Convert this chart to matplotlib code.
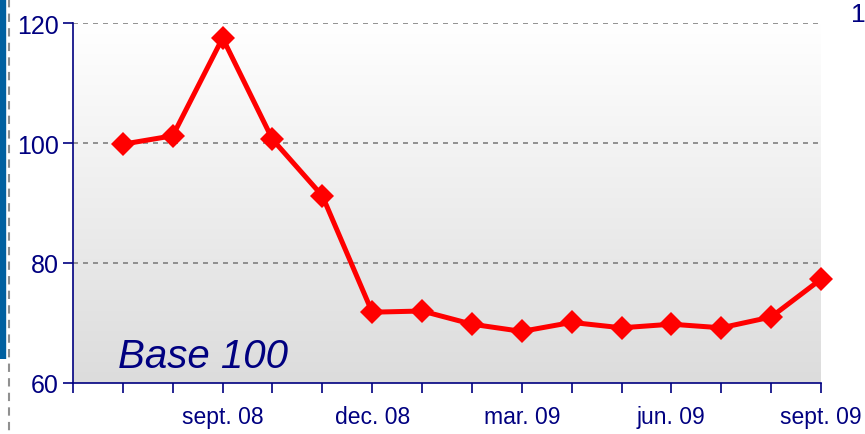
import matplotlib
matplotlib.use("Agg")
import matplotlib.pyplot as plt
from matplotlib.colors import LinearSegmentedColormap
from matplotlib.lines import Line2D
import numpy as np

plt.rcParams["font.family"] = ["Liberation Sans", "DejaVu Sans"]

# Monthly index, base 100 (juil. 08 .. sept. 09)
months = ["juil. 08", "août 08", "sept. 08", "oct. 08", "nov. 08", "dec. 08",
          "janv. 09", "févr. 09", "mar. 09", "avr. 09", "mai 09", "jun. 09",
          "juil. 09", "août 09", "sept. 09"]
values = [99.8, 101.2, 117.5, 100.6, 91.2, 71.8, 72.0, 69.8, 68.6, 70.1,
          69.2, 69.8, 69.2, 71.0, 77.3]
grid_levels = [80, 100, 120]

NAVY = "#000080"
RED = "#ff0000"

fig = plt.figure(figsize=(8.65, 4.35), dpi=100)
ax = fig.add_axes([73 / 865, 51 / 435, 748 / 865, 360 / 435])

x = np.arange(1, len(months) + 1)

# plot area: white at the top fading to light grey at the bottom
bg = LinearSegmentedColormap.from_list("bg", ["#dcdcdc", "#ffffff"])
ax.imshow(np.linspace(0, 1, 256).reshape(-1, 1), aspect="auto", cmap=bg,
          extent=[0, len(months), 60, 120], origin="lower", zorder=0)

for yv in grid_levels:
    ax.axhline(yv, color="#808080", linestyle=(0, (3, 3)), linewidth=1.2, zorder=1)

ax.plot(x, values, color=RED, linewidth=3.6, marker="D", markersize=12,
        markeredgewidth=0, zorder=3, clip_on=False)

ax.set_xlim(0, len(months))
ax.set_ylim(60, 120)
ax.set_yticks([60, 80, 100, 120])

ax.set_xticks(np.arange(0, len(months) + 1))
ax.set_xticklabels([""] + [m if i % 3 == 2 else "" for i, m in enumerate(months)])

for side in ("top", "right"):
    ax.spines[side].set_visible(False)
for side in ("left", "bottom"):
    ax.spines[side].set_color(NAVY)
    ax.spines[side].set_linewidth(1.2)

ax.tick_params(axis="both", direction="out", length=7, width=1.2, color=NAVY,
               labelcolor=NAVY)
ax.tick_params(axis="x", labelsize=16.5, pad=9)
ax.tick_params(axis="y", labelsize=18, pad=3)

ax.text(0.06, 0.045, "Base 100", transform=ax.transAxes, fontsize=29,
        style="italic", color=NAVY, ha="left", va="baseline", zorder=4)

# slide decoration on the left edge and the cut-off page number
fig.add_artist(Line2D([3 / 865, 3 / 865], [1, 75 / 435], transform=fig.transFigure,
                      color="#0060a0", linewidth=4.6, solid_capstyle="butt"))
fig.add_artist(Line2D([8.5 / 865, 8.5 / 865], [1, 0], transform=fig.transFigure,
                      color="#909090", linewidth=1.5, linestyle=(0, (4, 3))))
fig.text(851 / 865, 1 - 22 / 435, "1", color=NAVY, fontsize=19, ha="left",
         va="baseline")

fig.savefig("out.png", dpi=100)
